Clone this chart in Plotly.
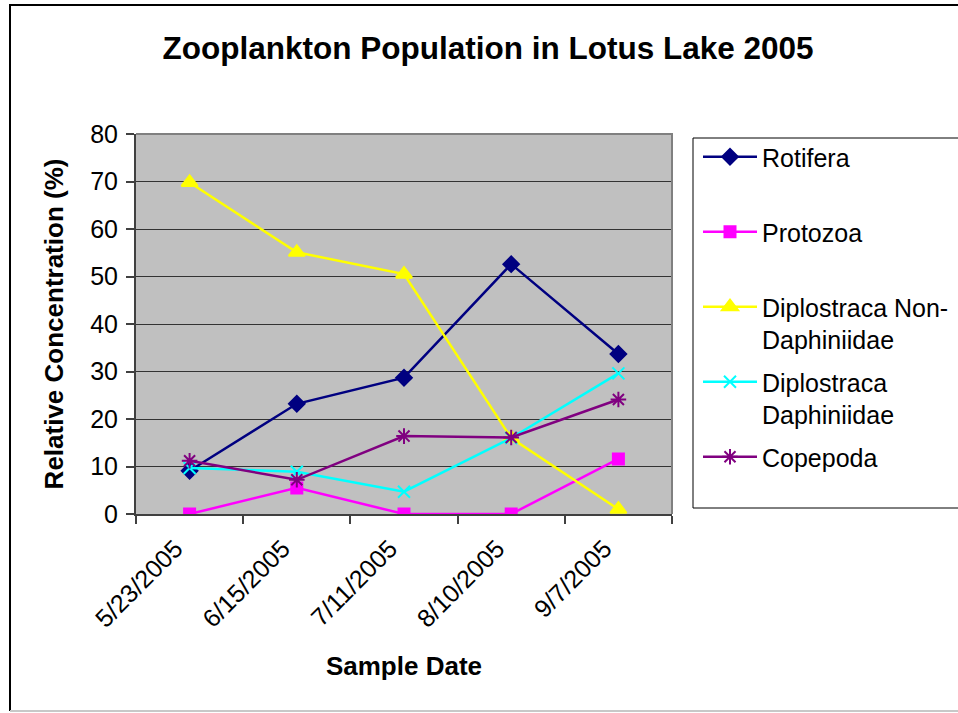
import plotly.graph_objects as go

dates = ["5/23/2005", "6/15/2005", "7/11/2005", "8/10/2005", "9/7/2005"]
rotifera = [9.1, 23.2, 28.7, 52.6, 33.7]
protozoa = [0.0, 5.5, 0.0, 0.0, 11.6]
dipl_non_daph = [69.8, 55.1, 50.5, 16.0, 1.0]
dipl_daph = [9.7, 8.9, 4.7, 16.0, 29.6]
copepoda = [11.2, 7.2, 16.4, 16.1, 24.1]

names = ["Rotifera<br>&nbsp;", "Protozoa<br>&nbsp;", "Diplostraca Non-<br>Daphiniidae",
         "Diplostraca<br>Daphiniidae", "Copepoda<br>&nbsp;"]
series = [rotifera, protozoa, dipl_non_daph, dipl_daph, copepoda]
colors = ["#000080", "#FF00FF", "#FFFF00", "#00FFFF", "#800080"]
symbols = ["diamond", "square", "triangle-up", "x-thin-open", "asterisk-open"]
sizes = [12, 11, 14, 12, 13]

FONT = "Liberation Sans, Arial, sans-serif"

fig = go.Figure()
for i, (nm, ys, c, sym, sz) in enumerate(zip(names, series, colors, symbols, sizes)):
    fig.add_trace(go.Scatter(
        x=dates, y=ys, name=nm, mode="lines+markers", legendgroup=f"g{i}",
        line=dict(color=c, width=2.5),
        marker=dict(symbol=sym, size=sz, color=c, line=dict(color=c, width=2)),
    ))

W, H = 958, 713
L, R, T, B = 136, 672, 134, 514

def px2x(px):
    return (px - L) / (R - L)

def py2y(py):
    return (B - py) / (B - T)

shapes = [
    # legend box
    dict(type="rect", xref="paper", yref="paper",
         x0=px2x(693), x1=px2x(975), y0=py2y(508), y1=py2y(138),
         line=dict(color="#000000", width=1), fillcolor="white", layer="above"),
    # top and right gray border of the plot area
    dict(type="path", xref="paper", yref="paper",
         path="M 0,1 L 1,1 L 1,0", line=dict(color="#808080", width=2), layer="above"),
    # outer chart border (left + top black)
    dict(type="path", xref="paper", yref="paper",
         path=f"M {px2x(10)},{py2y(711)} L {px2x(10)},{py2y(5)} L {px2x(975)},{py2y(5)}",
         line=dict(color="#000000", width=2), layer="above"),
    dict(type="line", xref="paper", yref="paper",
         x0=px2x(10), x1=px2x(975), y0=py2y(711), y1=py2y(711),
         line=dict(color="#c8c8c8", width=2), layer="above"),
]

fig.update_layout(
    width=W, height=H,
    margin=dict(l=L, r=W - R, t=T, b=H - B, autoexpand=False),
    paper_bgcolor="white",
    plot_bgcolor="#C0C0C0",
    font=dict(family=FONT, size=25, color="black"),
    title=dict(text="<b>Zooplankton Population in Lotus Lake 2005</b>",
               font=dict(size=31.5, family=FONT, color="black"),
               x=488 / W, xref="container", xanchor="center",
               y=1 - 48 / H, yref="container", yanchor="middle"),
    showlegend=True,
    legend=dict(
        xref="container", yref="container",
        x=698 / W, xanchor="left", y=1 - 134 / H, yanchor="top",
        bgcolor="rgba(0,0,0,0)", borderwidth=0,
        font=dict(size=25, family=FONT, color="black"),
        itemwidth=54, tracegroupgap=7, valign="top",
        itemclick=False, maxheight=650,
    ),
    shapes=shapes,
)

fig.update_xaxes(
    type="category", tickson="boundaries", ticks="outside", ticklen=8,
    tickcolor="#404040", tickwidth=2,
    showline=True, linecolor="#404040", linewidth=2,
    showgrid=False, tickangle=-45,
    ticklabelshift=-14, ticklabelstandoff=8,
    tickfont=dict(size=25, family=FONT, color="black"),
    title=dict(text="<b>Sample Date</b>", font=dict(size=26, family=FONT, color="black"), standoff=25),
    range=[-0.5, 4.5],
)
fig.update_yaxes(
    range=[0, 80], dtick=10, tick0=0, ticks="outside", ticklen=8,
    tickcolor="#404040", tickwidth=2,
    showline=True, linecolor="#404040", linewidth=2,
    showgrid=True, gridcolor="#333333", gridwidth=1, zeroline=False,
    ticklabelstandoff=3,
    tickfont=dict(size=25, family=FONT, color="black"),
    title=dict(text="<b>Relative Concentration (%)</b>", font=dict(size=26, family=FONT, color="black"), standoff=19),
)

fig.write_html("out.html", config={"displayModeBar": False},
               post_script="document.body.style.margin='0px';")
